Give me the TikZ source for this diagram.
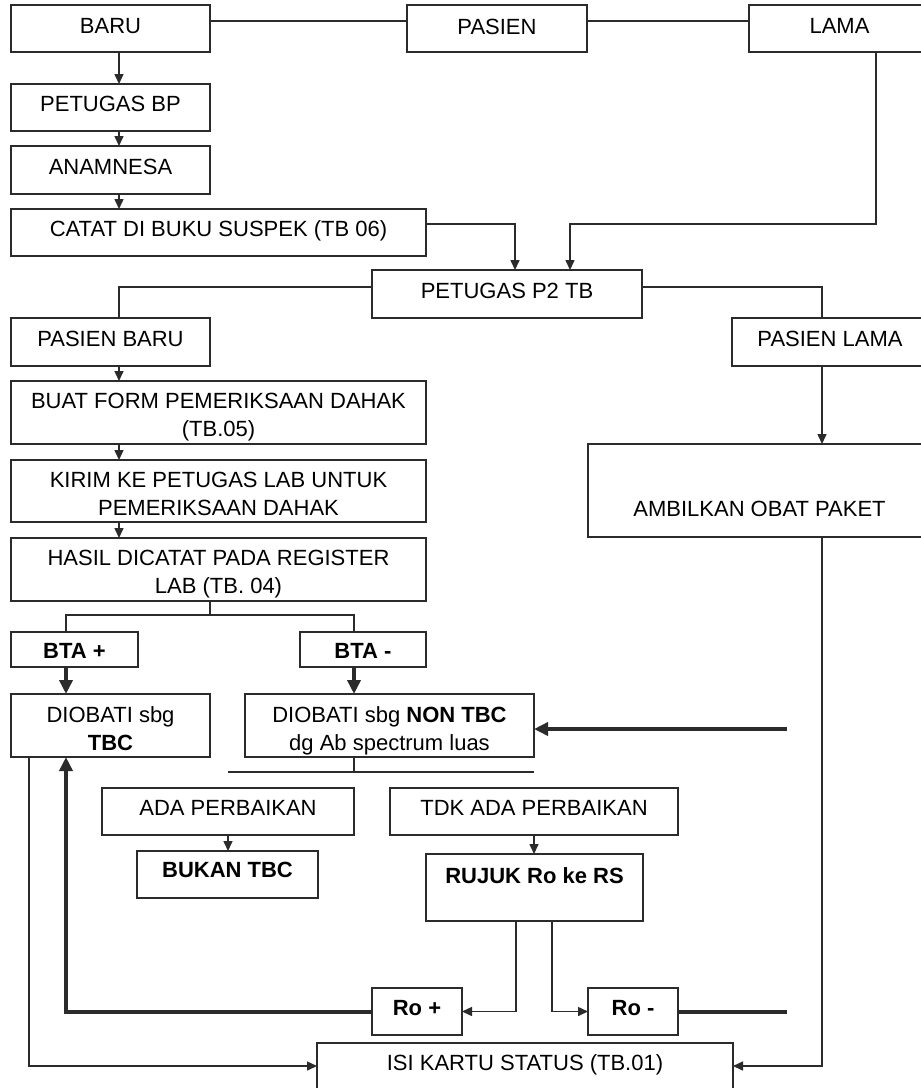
\documentclass[tikz,border=0pt]{standalone}
\usepackage{fontspec}
\setmainfont{Liberation Sans}
\usetikzlibrary{arrows.meta,calc}
\definecolor{lc}{HTML}{2B2B2B}
\newcommand\bx[7]{%
  \pgfmathsetmacro\bxw{#4-#2}\pgfmathsetmacro\bxh{#6-#3}\pgfmathsetmacro\bxd{#5-#6}%
  \node[box,minimum width=\bxw pt,text height=\bxh pt,text depth=\bxd pt] (#1) at (#2,#3) {#7};}
\newcommand\tl[2]{\begin{tabular}[t]{@{}c@{}}#1\\#2\end{tabular}}
\begin{document}
\begin{tikzpicture}[x=1pt,y=-1pt,
  every node/.style={font=\fontsize{22}{28.5}\selectfont},
  box/.style={draw=lc,line width=1.6pt,anchor=north west,inner xsep=0pt,inner ysep=0pt,outer sep=0pt},
  ln/.style={draw=lc,line width=1.5pt},
  arr/.style={ln,-{Triangle[length=10pt,width=9pt]}},
  tln/.style={draw=lc,line width=4pt},
  tarr/.style={tln,-{Triangle[length=14pt,width=13pt]}}]
\useasboundingbox (0,0) rectangle (921,1088);
\fill[white] (0,0) rectangle (921,1088);
\bx{baru}{11}{5}{210}{52}{33}{BARU}
\bx{pasien}{407}{5}{587}{52}{34}{PASIEN}
\bx{lama}{749}{5}{930}{52}{33}{LAMA}
\bx{bp}{11}{84}{210}{131}{111}{PETUGAS BP}
\bx{anam}{11}{146}{210}{194}{174}{ANAMNESA}
\bx{catat}{11}{209}{426}{256}{236}{CATAT DI BUKU SUSPEK (TB 06)}
\bx{ptb}{372}{270}{642}{318}{298}{PETUGAS P2 TB}
\bx{pbaru}{11}{318}{210}{366}{346}{PASIEN BARU}
\bx{plama}{732}{318}{928}{366}{346}{PASIEN LAMA}
\bx{obat}{588}{444}{931}{537}{516}{AMBILKAN OBAT PAKET}
\bx{buat}{11}{381}{426}{444}{408}{\tl{BUAT FORM PEMERIKSAAN DAHAK}{(TB.05)}}
\bx{kirim}{11}{460}{426}{522}{487}{\tl{KIRIM KE PETUGAS LAB UNTUK}{PEMERIKSAAN DAHAK}}
\bx{hasil}{11}{538}{426}{601}{565}{\tl{HASIL DICATAT PADA REGISTER}{LAB (TB. 04)}}
\bx{btap}{11}{632}{138}{667}{658}{\textbf{BTA +}}
\bx{btam}{300}{632}{426}{667}{658}{\textbf{BTA -}}
\bx{dtbc}{11}{694}{210}{757}{722}{\tl{DIOBATI sbg}{\textbf{TBC}}}
\bx{non}{245}{694}{534}{757}{722}{\tl{DIOBATI sbg \textbf{NON TBC}}{dg Ab spectrum luas}}
\bx{ada}{102}{788}{354}{835}{815}{ADA PERBAIKAN}
\bx{tdk}{390}{788}{678}{835}{815}{TDK ADA PERBAIKAN}
\bx{bukan}{137}{851}{318}{898}{877}{\textbf{BUKAN TBC}}
\bx{rujuk}{426}{854}{643}{921}{883}{\textbf{RUJUK Ro ke RS}}
\bx{rop}{372}{988}{462}{1035}{1015}{\textbf{Ro +}}
\bx{rom}{588}{988}{678}{1035}{1015}{\textbf{Ro -}}
\bx{isi}{317}{1043}{733}{1100}{1070}{ISI KARTU STATUS (TB.01)}
% top row
\draw[ln] ([yshift=-16pt]baru.north east) -- ([yshift=-16pt]pasien.north west);
\draw[ln] ([yshift=-16pt]pasien.north east) -- ([yshift=-16pt]lama.north west);
\draw[arr] ([xshift=127pt]lama.south west) |- ([xshift=198pt,yshift=46pt]ptb.north west) -- ([xshift=198pt]ptb.north west);
\draw[arr] ([xshift=108pt]baru.south west) -- ([xshift=108pt]bp.north west);
\draw[arr] ([xshift=108pt]bp.south west) -- ([xshift=108pt]anam.north west);
\draw[arr] ([xshift=108pt]anam.south west) -- ([xshift=108pt]catat.north west);
\draw[arr] ([yshift=-15pt]catat.north east) -| ([xshift=143pt]ptb.north west);
\draw[ln] ([yshift=-17pt]ptb.north west) -| ([xshift=108pt]pbaru.north west);
\draw[ln] ([yshift=-17pt]ptb.north east) -| ([xshift=90pt]plama.north west);
\coordinate (pl1) at ([xshift=90pt]plama.south west);
\draw[arr] (pl1) -- (pl1 |- obat.north);
\draw[arr] (pl1 |- obat.south) |- ([yshift=-23pt]isi.north east);
% left column
\draw[arr] ([xshift=108pt]pbaru.south west) -- ([xshift=108pt]buat.north west);
\draw[arr] ([xshift=108pt]buat.south west) -- ([xshift=108pt]kirim.north west);
\draw[arr] ([xshift=108pt]kirim.south west) -- ([xshift=108pt]hasil.north west);
\draw[ln] ([xshift=199pt]hasil.south west) -- ++(0,14) coordinate (split);
\draw[ln] ([xshift=55pt]btap.north west) |- (split) -| ([xshift=54pt]btam.north west);
\coordinate (bp1) at ([xshift=55pt]btap.south west);
\coordinate (bm1) at ([xshift=54pt]btam.south west);
\draw[tarr] (bp1) -- (bp1 |- dtbc.north);
\draw[tarr] (bm1) -- (bm1 |- non.north);
\draw[ln] (bm1 |- non.south) -- ++(0,15) coordinate (bar);
\draw[ln] (ada.north |- bar) -- (tdk.north |- bar);
\draw[arr] (ada.south) -- (ada.south |- bukan.north);
\draw[arr] (tdk.south) -- (tdk.south |- rujuk.north);
\draw[arr] ([xshift=90pt]rujuk.south west) |- (rop.east);
\draw[arr] ([xshift=126pt]rujuk.south west) |- (rom.west);
\draw[tarr] (rop.west) -| (bp1 |- dtbc.south);
\coordinate (e1) at (787,1011.5);
\coordinate (e2) at (787,729);
\draw[tln] (rom.east) -- (e1);
\draw[tarr] (e2) -- (e2 -| non.east);
\draw[arr] ([xshift=18pt]dtbc.south west) |- ([yshift=-23pt]isi.north west);
\end{tikzpicture}
\end{document}
